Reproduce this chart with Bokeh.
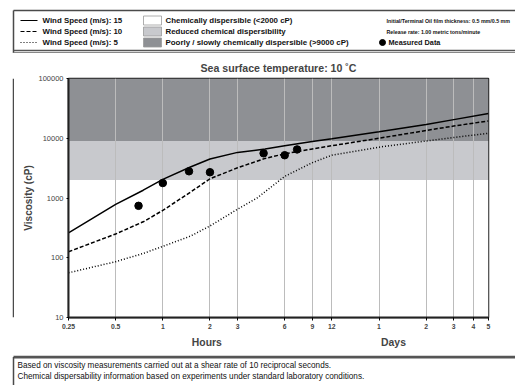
from bokeh.plotting import figure
from bokeh.layouts import column, row
from bokeh.models import Range1d, FixedTicker, LogAxis
from bokeh.embed import file_html
from bokeh.resources import INLINE
from bokeh.core.properties import value

FONT = "Liberation Sans"

# ---------------- data ----------------
hours_15 = [0.25, 0.5, 0.75, 1, 1.5, 2, 3, 4.5, 6, 9, 12, 24, 48, 72, 120]
visc_15 = [260, 780, 1350, 2050, 3300, 4500, 5800, 6600, 7500, 8800, 9800, 12800, 17000, 20500, 26000]

hours_10 = [0.25, 0.5, 0.75, 1, 1.5, 2, 3, 4.5, 6, 9, 12, 24, 48, 72, 120]
visc_10 = [126, 250, 400, 620, 1250, 2100, 3200, 4600, 5500, 6600, 7500, 10000, 13500, 16000, 19500]

hours_5 = [0.25, 0.5, 0.75, 1, 1.5, 2, 3, 4, 6, 9, 12, 24, 48, 72, 120]
visc_5 = [56, 86, 118, 155, 230, 340, 650, 1000, 2300, 3900, 5200, 7100, 9000, 10300, 12100]

meas_hours = [0.7, 1.0, 1.47, 2.0, 4.4, 6.0, 7.2]
meas_visc = [740, 1780, 2800, 2700, 5600, 5200, 6500]

band_labels = ["Chemically dispersible (<2000 cP)",
               "Reduced chemical dispersibility",
               "Poorly / slowly chemically dispersible (>9000 cP)"]
band_bottom = [10, 2000, 9000]
band_top = [2000, 9000, 100000]
band_colors = ["#ffffff", "#c8c9cd", "#8e9094"]

series_labels = ["Wind Speed (m/s): 15", "Wind Speed (m/s): 10", "Wind Speed (m/s): 5"]
series_dash = ["solid", "4 2", "1 2"]

x_ticks = [0.25, 0.5, 1, 2, 3, 6, 9, 12, 24, 48, 72, 96, 120]
x_tick_labels = ["0.25", "0.5", "1", "2", "3", "6", "9", "12", "1", "2", "3", "4", "5"]
y_ticks = [10, 100, 1000, 10000, 100000]
y_tick_labels = ["10", "100", "1000", "10000", "100000"]

unit_pos = [1.91, 29.7]
unit_labels = ["Hours", "Days"]

info_lines = ["Initial/Terminal Oil film thickness: 0.5 mm/0.5 mm",
              "Release rate: 1.00 metric tons/minute"]
footer_lines = ["Based on viscosity measurements carried out at a shear rate of 10 reciprocal seconds.",
                "Chemical dispersability information based on experiments under standard laboratory conditions."]

W = 515
STRIP = 14
H_HEAD, H_MAIN, H_FOOT = 53, 302, 30
BORDER = "#4a4a4a"


def blank(width, height):
    f = figure(width=width, height=height, x_range=Range1d(0, width), y_range=Range1d(height, 0),
               x_axis_location=None, y_axis_location=None, min_border=0,
               toolbar_location=None, output_backend="svg")
    f.grid.visible = False
    f.outline_line_color = None
    f.background_fill_color = "white"
    f.border_fill_color = "white"
    return f


# ---------------- header (legend) ----------------
h = blank(W, H_HEAD)
h.line([13, W], [10, 10], line_color=BORDER, line_width=1.5)
h.line([13, 13], [10, H_HEAD], line_color=BORDER, line_width=1.5)
h.line([13, W], [50, 50], line_color="#555555", line_width=1.5)
h.line([13, W], [52.3, 52.3], line_color="#888888", line_width=1.5)

rows_y = [20, 31, 42]
for lab, dash, yy in zip(series_labels, series_dash, rows_y):
    h.line([20, 37], [yy, yy], line_color="black", line_width=1.2, line_dash=dash)
    h.text([42], [yy], text=[lab], text_font=value(FONT), text_font_style="bold",
           text_font_size="7.9px", text_baseline="middle", text_color="#111111")

for lab, col, yy in zip(band_labels, band_colors, rows_y):
    h.quad(left=[143], right=[161], top=[yy - 4.5], bottom=[yy + 4.5], fill_color=col,
           line_color="#9a9a9a", line_width=0.8)
    h.text([165], [yy], text=[lab], text_font=value(FONT), text_font_style="bold",
           text_font_size="7.9px", text_baseline="middle", text_color="#111111")

for lab, yy in zip(info_lines, rows_y[:2]):
    h.text([386], [yy], text=[lab], text_font=value(FONT), text_font_style="bold",
           text_font_size="5.3px", text_baseline="middle", text_color="#111111")
h.scatter([382], [rows_y[2]], size=6, color="black")
h.text([388], [rows_y[2]], text=["Measured Data"], text_font=value(FONT), text_font_style="bold",
       text_font_size="7.3px", text_baseline="middle", text_color="#111111")

# ---------------- left border strip ----------------
s = blank(STRIP, H_MAIN)
s.line([13, 13], [0, H_MAIN], line_color=BORDER, line_width=1.5)

# ---------------- main chart ----------------
p = figure(width=W - STRIP, height=H_MAIN, x_axis_type="log", y_axis_type="log",
           x_range=Range1d(0.25, 120), y_range=Range1d(10, 100000),
           min_border_left=54, min_border_right=27, min_border_top=25, min_border_bottom=38,
           toolbar_location=None, output_backend="svg",
           title="Sea surface temperature: 10 ˚C")
p.title.align = "center"
p.title.text_font = FONT
p.title.text_font_size = "10.6px"
p.title.text_font_style = "bold"
p.title.standoff = 10
p.background_fill_color = "white"
p.border_fill_color = "white"
p.outline_line_color = "#222222"
p.outline_line_width = 1.5

p.quad(left=[0.25] * 3, right=[120] * 3, bottom=band_bottom, top=band_top,
       fill_color=band_colors, line_color=None, level="image")

for hrs, vis, dash in zip([hours_15, hours_10, hours_5], [visc_15, visc_10, visc_5], series_dash):
    p.line(hrs, vis, line_color="black", line_width=1.5, line_dash=dash)

p.scatter(meas_hours, meas_visc, size=7.5, color="black")

xa = p.xaxis[0]
xa.ticker = FixedTicker(ticks=x_ticks, minor_ticks=[])
xa.major_label_overrides = dict(zip(x_ticks, x_tick_labels))
xa.major_label_text_font = FONT
xa.major_label_text_font_size = "6.8px"
xa.major_label_text_font_style = "bold"
xa.major_label_standoff = 3
xa.major_tick_out = 3
xa.major_tick_in = 0
xa.axis_line_width = 2
xa.axis_line_color = "#222222"

ya = p.yaxis[0]
ya.ticker = FixedTicker(ticks=y_ticks, minor_ticks=[])
ya.major_label_overrides = dict(zip(y_ticks, y_tick_labels))
ya.major_label_text_font = FONT
ya.major_label_text_font_size = "7.5px"
ya.major_label_standoff = 3
ya.major_tick_out = 2
ya.major_tick_in = 0
ya.axis_line_width = 2
ya.axis_line_color = "#222222"
ya.axis_label = "Viscosity (cP)"
ya.axis_label_text_font = FONT
ya.axis_label_text_font_size = "10px"
ya.axis_label_text_font_style = "bold"
ya.axis_label_standoff = 1

p.xgrid.grid_line_color = "#bcbcbc"
p.xgrid.grid_line_width = 1
p.ygrid.grid_line_color = None

ax2 = LogAxis(ticker=FixedTicker(ticks=unit_pos, minor_ticks=[]),
              major_label_overrides=dict(zip(unit_pos, unit_labels)),
              axis_line_color=None, major_tick_line_color=None, minor_tick_line_color=None,
              major_tick_out=0, major_tick_in=0, major_label_standoff=5,
              major_label_text_font=FONT, major_label_text_font_size="10.4px",
              major_label_text_font_style="bold")
p.add_layout(ax2, "below")

# ---------------- footer ----------------
f = blank(W, H_FOOT)
f.line([13, W], [1.5, 1.5], line_color="#555555", line_width=3)
f.line([13, 13], [1.5, H_FOOT], line_color=BORDER, line_width=1.5)
for txt, yy in zip(footer_lines, [9.5, 20.5]):
    f.text([17], [yy], text=[txt], text_font=value(FONT), text_font_size="8.2px",
           text_baseline="middle", text_color="#111111")

layout = column(h, row(s, p), f)
open("out.html", "w").write(file_html(layout, INLINE))
